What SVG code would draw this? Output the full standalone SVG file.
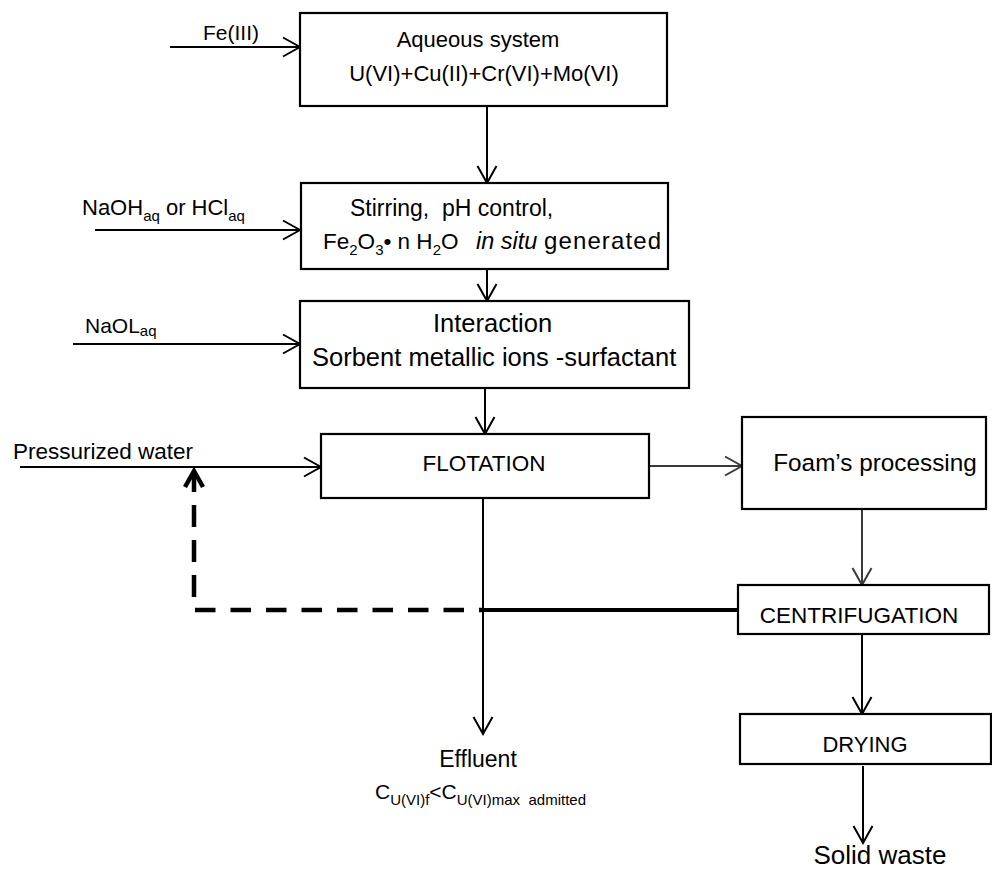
<svg xmlns="http://www.w3.org/2000/svg" width="992" height="871" viewBox="0 0 992 871">
<style>
text{font-family:"Liberation Sans",Arial,sans-serif;fill:#000}
.box{fill:#fff;stroke:#000;stroke-width:2.2}
.ln{fill:none;stroke:#000;stroke-width:2}
.gr{fill:none;stroke:#3a3a3a;stroke-width:2}
.sub{font-size:15px}
</style>
<defs>
<marker id="ah" viewBox="0 0 20 22" refX="18" refY="11" markerWidth="20" markerHeight="22" markerUnits="userSpaceOnUse" orient="auto">
<path d="M1,1.5 L18,11 L1,20.5" fill="none" stroke="#000" stroke-width="2"/>
</marker>
<marker id="ahg" viewBox="0 0 20 22" refX="18" refY="11" markerWidth="20" markerHeight="22" markerUnits="userSpaceOnUse" orient="auto">
<path d="M1,1.5 L18,11 L1,20.5" fill="none" stroke="#3a3a3a" stroke-width="2"/>
</marker>
</defs>
<rect width="992" height="871" fill="#fff"/>

<g id="connectors">
<path class="ln" d="M170,47 H300" marker-end="url(#ah)"/>
<path class="ln" d="M95,230 H300" marker-end="url(#ah)"/>
<path class="ln" d="M73,344 H300" marker-end="url(#ah)"/>
<path class="ln" d="M20,467 H321" marker-end="url(#ah)"/>
<path class="ln" d="M487,106 V183" marker-end="url(#ah)"/>
<path class="ln" d="M487,269 V301" marker-end="url(#ah)"/>
<path class="ln" d="M485,388 V434" marker-end="url(#ah)"/>
<path class="gr" d="M649,466 H742" marker-end="url(#ahg)"/>
<path class="gr" d="M862,509 V585" marker-end="url(#ahg)"/>
<path class="ln" d="M483,498 V734" marker-end="url(#ah)"/>
<path class="ln" d="M862,634 V714" marker-end="url(#ah)"/>
<path class="ln" d="M863,766 V843" marker-end="url(#ah)"/>
<path d="M483,610 H738" fill="none" stroke="#000" stroke-width="4"/>
<path d="M195,610 H483" fill="none" stroke="#000" stroke-width="4.5" stroke-dasharray="20.5 15"/>
<path d="M194,597 V472" fill="none" stroke="#000" stroke-width="4.5" stroke-dasharray="22 13"/>
<path d="M185,487 L194,471 L203,487" fill="none" stroke="#000" stroke-width="4.5" stroke-linejoin="miter"/>
</g>

<g id="fe3-label"><text x="203" y="40" font-size="21">Fe(III)</text></g>
<g id="naoh-label"><text x="82" y="215" font-size="22">NaOH<tspan class="sub" dy="6">aq</tspan><tspan dy="-6"> or HCl</tspan><tspan class="sub" dy="6">aq</tspan></text></g>
<g id="naol-label"><text x="85" y="333" font-size="21">NaOL<tspan class="sub" dy="3">aq</tspan></text></g>
<g id="water-label"><text x="13" y="459" font-size="22.5">Pressurized water</text></g>

<g id="aqueous">
<rect class="box" x="300" y="13" width="367" height="93"/>
<text x="478" y="47" font-size="22" text-anchor="middle">Aqueous system</text>
<text x="484" y="81" font-size="22" text-anchor="middle">U(VI)+Cu(II)+Cr(VI)+Mo(VI)</text>
</g>

<g id="stirring">
<rect class="box" x="301" y="183" width="367" height="86"/>
<text x="350" y="216" font-size="23" xml:space="preserve">Stirring,  pH control,</text>
<text x="323" y="249" font-size="22.5">Fe<tspan class="sub" dy="6">2</tspan><tspan dy="-6">O</tspan><tspan class="sub" dy="6">3</tspan><tspan dy="-6">• n H</tspan><tspan class="sub" dy="6">2</tspan><tspan dy="-6">O</tspan></text>
<text x="476" y="249" font-size="23.5" font-style="italic">in situ</text>
<text x="544" y="249" font-size="24" textLength="117">generated</text>
</g>

<g id="interaction">
<rect class="box" x="300" y="301" width="389" height="87"/>
<text x="433" y="332" font-size="25.5">Interaction</text>
<text x="312" y="366" font-size="25.5">Sorbent metallic ions -surfactant</text>
</g>

<g id="flotation">
<rect class="box" x="321" y="434" width="328" height="64"/>
<text x="484" y="471" font-size="22.5" text-anchor="middle">FLOTATION</text>
</g>

<g id="foam">
<rect class="box" x="742" y="417" width="244" height="92"/>
<text x="875" y="471" font-size="24.3" text-anchor="middle">Foam’s processing</text>
</g>

<g id="centrifugation">
<rect class="box" x="738" y="585" width="251" height="49"/>
<text x="859" y="623" font-size="22.5" text-anchor="middle">CENTRIFUGATION</text>
</g>

<g id="drying">
<rect class="box" x="740" y="714" width="251" height="50"/>
<text x="865" y="752" font-size="22" text-anchor="middle">DRYING</text>
</g>

<g id="effluent">
<text x="478" y="767" font-size="23" text-anchor="middle">Effluent</text>
<text x="375" y="799" font-size="21" xml:space="preserve">C<tspan class="sub" dy="6">U(VI)f</tspan><tspan dy="-6">&lt;C</tspan><tspan class="sub" dy="6">U(VI)max  admitted</tspan></text>
</g>

<g id="solid-waste"><text x="880" y="864" font-size="26" text-anchor="middle">Solid waste</text></g>
</svg>
